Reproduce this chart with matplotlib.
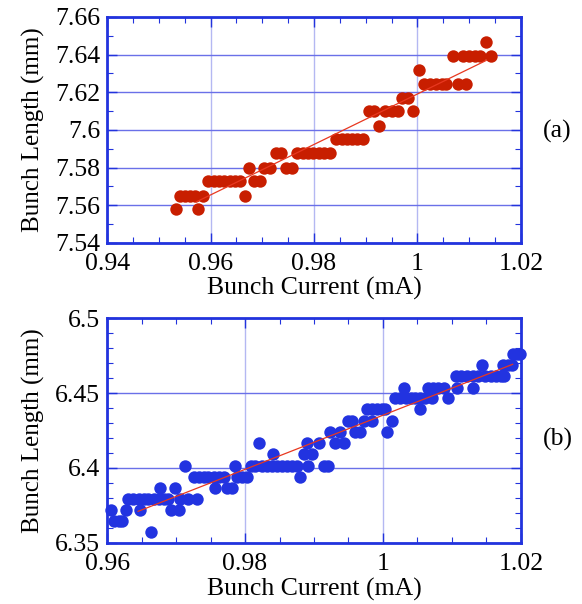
import numpy as np
import matplotlib
matplotlib.use("Agg")
import matplotlib.pyplot as plt
from matplotlib.ticker import MultipleLocator, FuncFormatter

plt.rcParams['font.family'] = ['Liberation Serif', 'DejaVu Serif']

# panel (a)
cur_a = [0.9533, 0.9540, 0.9550, 0.9560, 0.9570, 0.9575, 0.9585,
         0.9596, 0.9606, 0.9616, 0.9626, 0.9637, 0.9647, 0.9657,
         0.9666, 0.9675, 0.9684, 0.9696, 0.9704, 0.9715, 0.9727, 0.9737,
         0.9746, 0.9757, 0.9768, 0.9778, 0.9789, 0.9799, 0.9809, 0.9820, 0.9830,
         0.9843, 0.9854, 0.9863, 0.9874, 0.9884, 0.9894,
         0.9906, 0.9916, 0.9926, 0.9937, 0.9950, 0.9962, 0.9970, 0.9982, 0.9991,
         1.0003, 1.0013, 1.0024, 1.0035, 1.0047, 1.0056, 1.0078, 1.0094,
         1.0068, 1.0089, 1.0100, 1.0111, 1.0121, 1.0132, 1.0143]
len_a = [7.558, 7.565, 7.565, 7.565, 7.565, 7.558, 7.565,
         7.5727, 7.5727, 7.5727, 7.5727, 7.5727, 7.5727, 7.5727,
         7.565, 7.580, 7.5727, 7.5727, 7.580, 7.580, 7.5877, 7.5877,
         7.580, 7.580, 7.5877, 7.5877, 7.5877, 7.5877, 7.5877, 7.5877, 7.5877,
         7.595, 7.595, 7.595, 7.595, 7.595, 7.595,
         7.610, 7.610, 7.602, 7.610, 7.610, 7.610, 7.617, 7.617, 7.610,
         7.632, 7.6246, 7.6246, 7.6246, 7.6246, 7.6246, 7.6246, 7.6246,
         7.6395, 7.6395, 7.6395, 7.6395, 7.6395, 7.6467, 7.6395]

# panel (b)
cur_b = [0.9605, 0.9610, 0.9617, 0.9622, 0.9627,
         0.9631, 0.9638, 0.9646, 0.9653, 0.9660, 0.9668, 0.9675, 0.9682, 0.9688,
         0.9648, 0.9664, 0.9676, 0.9692, 0.9704, 0.9698, 0.9713,
         0.9706, 0.9718, 0.9730,
         0.9726, 0.9733, 0.9740, 0.9747, 0.9755, 0.9762, 0.9769,
         0.9757, 0.9774, 0.9781, 0.9785, 0.9788, 0.9796, 0.9803,
         0.9808, 0.9815, 0.9825, 0.9832, 0.9839, 0.9846, 0.9854, 0.9861, 0.9868, 0.9875,
         0.9820, 0.9840, 0.9880, 0.9892, 0.9885, 0.9897, 0.9890, 0.9907,
         0.9914, 0.9921, 0.9923, 0.9938, 0.9930, 0.9943,
         0.9950, 0.9955, 0.9960, 0.9967, 0.9972, 0.9984,
         0.9977, 0.9984, 0.9991, 0.9998, 1.0003, 1.0006, 1.0013,
         1.0018, 1.0025, 1.0033, 1.0040, 1.0047, 1.0054, 1.0061, 1.0071,
         1.0030, 1.0054, 1.0066, 1.0073, 1.0080, 1.0088, 1.0095, 1.0107,
         1.0106, 1.0113, 1.0122, 1.0130, 1.0138, 1.0148, 1.0157, 1.0164, 1.0171, 1.0176,
         1.0131, 1.0143, 1.0174, 1.0182, 1.0187, 1.0189, 1.0194, 1.0198]
len_b = [6.3721, 6.3646, 6.3646, 6.3646, 6.3721,
         6.3794, 6.3794, 6.3794, 6.3794, 6.3794, 6.3794, 6.3794, 6.3794, 6.3794,
         6.3721, 6.3573, 6.3867, 6.3721, 6.3721, 6.3867, 6.4015,
         6.3794, 6.3794, 6.3794,
         6.3942, 6.3942, 6.3942, 6.3942, 6.3942, 6.3942, 6.3942,
         6.3867, 6.3867, 6.3867, 6.4015, 6.3942, 6.3942, 6.3942,
         6.4015, 6.4015, 6.4015, 6.4015, 6.4015, 6.4015, 6.4015, 6.4015, 6.4015, 6.4015,
         6.4166, 6.4093, 6.3940, 6.4015, 6.4093, 6.4093, 6.4166, 6.4166,
         6.4015, 6.4015, 6.4240, 6.4240, 6.4166, 6.4166,
         6.4314, 6.4314, 6.4240, 6.4240, 6.4314, 6.4314,
         6.4392, 6.4392, 6.4392, 6.4392, 6.4392, 6.4240, 6.4314,
         6.4465, 6.4465, 6.4465, 6.4465, 6.4465, 6.4465, 6.4465, 6.4465,
         6.4535, 6.4392, 6.4535, 6.4535, 6.4535, 6.4535, 6.4465, 6.4535,
         6.4613, 6.4613, 6.4613, 6.4613, 6.4613, 6.4613, 6.4613, 6.4613, 6.4613, 6.4613,
         6.4535, 6.4690, 6.4686, 6.4686, 6.4686, 6.4763, 6.4763, 6.4763]

frame = '#2233dd'

fig = plt.figure(figsize=(5.82, 6.04), dpi=100)


def panel(rect, x, y, color, xlim, ylim, xmaj, xmin, ymaj, ymin, tag, tag_y):
    ax = fig.add_axes(rect)
    ax.set_xlim(*xlim)
    ax.set_ylim(*ylim)
    ax.xaxis.set_major_locator(MultipleLocator(xmaj))
    ax.xaxis.set_minor_locator(MultipleLocator(xmin))
    ax.yaxis.set_major_locator(MultipleLocator(ymaj))
    ax.yaxis.set_minor_locator(MultipleLocator(ymin))
    fmt = FuncFormatter(lambda v, p: '%g' % round(v, 2))
    ax.xaxis.set_major_formatter(fmt)
    ax.yaxis.set_major_formatter(fmt)
    ax.grid(True, axis='y', color='#6a70e8', lw=1.0)
    ax.grid(True, axis='x', color='#b4b8f2', lw=1.0)
    ax.set_axisbelow(True)
    for s in ax.spines.values():
        s.set_color(frame)
        s.set_linewidth(2.0)
    ax.tick_params(which='both', direction='in', top=True, right=True,
                   color=frame, labelsize=18.5)
    ax.tick_params(axis='x', pad=7.5)
    ax.tick_params(axis='y', pad=5)
    ax.tick_params(which='major', length=7, width=1.0)
    ax.tick_params(which='minor', length=4, width=0.8)
    ax.scatter(x, y, s=80, color=color, zorder=3, clip_on=False, linewidths=0)
    k, b = np.polyfit(x, y, 1)
    xs = np.array([min(x) + 0.004, max(x) - 0.001])
    ax.plot(xs, k * xs + b, color='#e83820', lw=0.9, zorder=4)
    ax.set_xlabel('Bunch Current (mA)', fontsize=18.5, labelpad=1.5)
    ax.set_ylabel('Bunch Length (mm)', fontsize=18, labelpad=7)
    fig.text(0.958, tag_y, tag, fontsize=18.5, ha='center', va='center')
    return ax


panel([0.184, 0.598, 0.711, 0.374], cur_a, len_a, '#c81e00',
      (0.94, 1.02), (7.54, 7.66), 0.02, 0.005, 0.02, 0.01, '(a)', 0.782)
panel([0.184, 0.101, 0.711, 0.3725], cur_b, len_b, '#2233e0',
      (0.96, 1.02), (6.35, 6.5), 0.02, 0.005, 0.05, 0.01, '(b)', 0.272)

fig.savefig('out.png', dpi=100)
